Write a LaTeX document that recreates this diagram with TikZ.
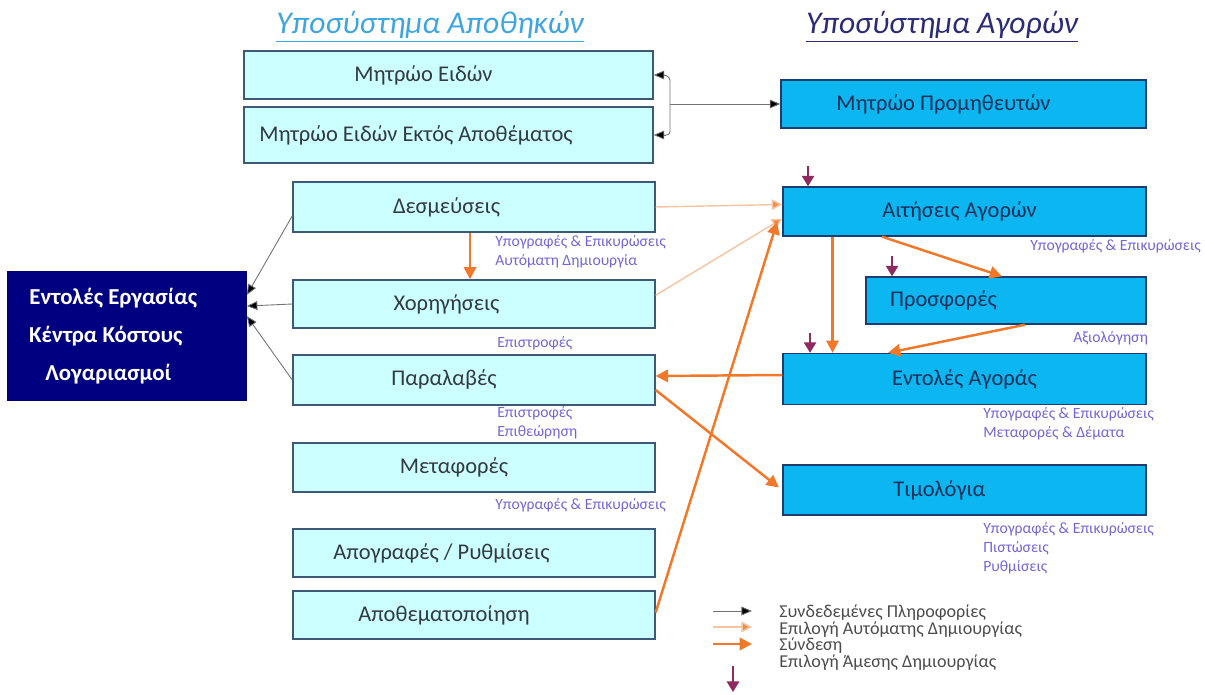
\documentclass[tikz,border=0pt]{standalone}
\usepackage{fontspec}
\setmainfont{Carlito}
\usetikzlibrary{arrows.meta}
\definecolor{stockfill}{HTML}{CCFFFF}
\definecolor{stockline}{HTML}{3C5A78}
\definecolor{buyfill}{HTML}{0CB6F0}
\definecolor{buyline}{HTML}{1E3C70}
\definecolor{navybox}{HTML}{000080}
\definecolor{linkorange}{HTML}{F07828}
\definecolor{autoorange}{HTML}{F5C4A0}
\definecolor{directpurple}{HTML}{8E2A5E}
\definecolor{notecolor}{HTML}{7466D8}
\definecolor{titleA}{HTML}{3DA5E0}
\definecolor{titleB}{HTML}{2B2B7A}
\definecolor{boxtext}{HTML}{333A40}
\begin{document}
\begin{tikzpicture}[x=0.02cm,y=-0.02cm,
  stockbox/.style={draw=stockline,fill=stockfill,line width=0.8pt,inner sep=0pt,
    text=boxtext,font=\fontsize{12.8}{15}\selectfont},
  buybox/.style={draw=buyline,fill=buyfill,line width=0.8pt,inner sep=0pt,
    text=buyline!80!black,font=\fontsize{12.8}{15}\selectfont},
  note/.style={anchor=west,inner sep=0pt,text=notecolor,align=left,
    font=\fontsize{8.9}{10.8}\selectfont},
  legendtext/.style={anchor=west,inner sep=0pt,text=black!70,
    font=\fontsize{10.3}{12}\selectfont},
  title/.style={inner sep=0pt,font=\fontsize{18}{21}\selectfont\itshape},
  infoarrow/.style={draw=black!55,line width=0.5pt,-{Triangle[length=6pt,width=5pt,fill=black]}},
  autoarrow/.style={draw=autoorange,line width=0.8pt,-{Triangle[length=6pt,width=6pt,fill=linkorange!85]}},
  linkarrow/.style={draw=linkorange,line width=1.4pt,-{Triangle[length=7pt,width=7pt]}},
  directarrow/.style={draw=directpurple,line width=1pt,-{Triangle[length=6pt,width=7pt]}}]
\useasboundingbox (0,0) rectangle (1205,694);

% headings
\node[title,text=titleA] (hA) at (430,27) {\underline{Υποσύστημα Αποθηκών}};
\node[title,text=titleB] (hB) at (942,27) {\underline{Υποσύστημα Αγορών}};

% warehouse subsystem
\node[stockbox,minimum width=8.18cm,minimum height=0.96cm] (items) at (448.5,75)
  {Μητρώο Ειδών\hspace*{1cm}};
\node[stockbox,minimum width=8.18cm,minimum height=1.12cm] (nonstock) at (448.5,135)
  {Μητρώο Ειδών Εκτός Αποθέματος\hspace*{1.3cm}};
\node[stockbox,minimum width=7.24cm,minimum height=1.0cm] (reserv) at (474,207)
  {Δεσμεύσεις\hspace*{1.1cm}};
\node[stockbox,minimum width=7.24cm,minimum height=0.96cm] (issues) at (474,304)
  {Χορηγήσεις\hspace*{1.1cm}};
\node[stockbox,minimum width=7.24cm,minimum height=1.0cm] (receipts) at (474,380)
  {Παραλαβές\hspace*{1.2cm}};
\node[stockbox,minimum width=7.24cm,minimum height=0.98cm] (transfers) at (474,467.5)
  {Μεταφορές\hspace*{0.8cm}};
\node[stockbox,minimum width=7.24cm,minimum height=0.96cm] (counts) at (474,553)
  {Απογραφές / Ρυθμίσεις\hspace*{1.3cm}};
\node[stockbox,minimum width=7.24cm,minimum height=0.96cm] (stocking) at (474,615)
  {Αποθεματοποίηση\hspace*{1.2cm}};

% work orders, cost centres, accounts
\node[draw=navybox!80!black,fill=navybox,minimum width=4.78cm,minimum height=2.58cm,
  inner sep=0pt,text=white,align=center,font=\fontsize{13}{21.5}\selectfont\bfseries]
  (orders) at (127,336) {\hspace*{-0.55cm}Εντολές Εργασίας\\\hspace*{-0.85cm}Κέντρα Κόστους\\\hspace*{-0.75cm}Λογαριασμοί};

% purchasing subsystem
\node[buybox,minimum width=7.3cm,minimum height=0.96cm] (suppliers) at (963.5,104)
  {Μητρώο Προμηθευτών\hspace*{0.8cm}};
\node[buybox,minimum width=7.26cm,minimum height=0.98cm] (requests) at (964.5,211.5)
  {Αιτήσεις Αγορών\hspace*{0.2cm}};
\node[buybox,minimum width=5.6cm,minimum height=0.94cm] (offers) at (1006,300.5)
  {Προσφορές\hspace*{2.5cm}};
\node[buybox,minimum width=7.26cm,minimum height=1.02cm] (porders) at (964.5,379)
  {Εντολές Αγοράς};
\node[buybox,minimum width=7.26cm,minimum height=1.0cm] (invoices) at (964.5,490)
  {Τιμολόγια\hspace*{1cm}};

% notes beside the boxes
\node[note] (n1) at (495,252) {Υπογραφές \& Επικυρώσεις\\Αυτόματη Δημιουργία};
\node[note] (n2) at (497,343) {Επιστροφές};
\node[note] (n3) at (497,423) {Επιστροφές\\Επιθεώρηση};
\node[note] (n4) at (495,505) {Υπογραφές \& Επικυρώσεις};
\node[note] (n5) at (1030,246) {Υπογραφές \& Επικυρώσεις};
\node[note] (n6) at (1073,338) {Αξιολόγηση};
\node[note] (n7) at (983,424) {Υπογραφές \& Επικυρώσεις\\Μεταφορές \& Δέματα};
\node[note] (n8) at (983,548) {Υπογραφές \& Επικυρώσεις\\Πιστώσεις\\Ρυθμίσεις};

% linked information: supplier register to the item registers
\coordinate (fork) at (670,104);
\draw[infoarrow] (fork) -- (suppliers.west);
\draw[black!55,line width=0.5pt,rounded corners=2pt]
  ([xshift=6pt]items.east) -- (670,77) -- (670,135) -- ([xshift=6pt]nonstock.east);
\draw[infoarrow] ([xshift=7pt]items.east) -- (items.east);
\draw[infoarrow] ([xshift=7pt]nonstock.east) -- (nonstock.east);

% linked information: warehouse documents to work orders
\draw[infoarrow] ([yshift=-5pt]reserv.west) -- ([yshift=0.82cm]orders.east);
\draw[infoarrow] ([yshift=0pt]issues.west) -- ([yshift=0.6cm]orders.east);
\draw[infoarrow] (receipts.west) -- ([yshift=0.4cm]orders.east);

% automatic creation
\draw[autoarrow] (reserv.east) -- ([yshift=4pt]requests.west);
\draw[autoarrow] ([yshift=5pt]issues.east) -- ([yshift=-4pt]requests.west);

% links
\draw[linkarrow] ([xshift=-0.08cm]reserv.south) -- ([xshift=-0.08cm]issues.north);
\draw[linkarrow] ([yshift=0.05cm]stocking.east) -- ([xshift=-3pt,yshift=-6pt]requests.west);
\draw[linkarrow] ([yshift=0.08cm]porders.west) -- ([yshift=0.08cm]receipts.east);
\draw[linkarrow] ([yshift=-0.2cm]receipts.east) -- ([xshift=-2pt,yshift=0.05cm]invoices.west);
\draw[linkarrow] ([xshift=-2.64cm]requests.south) -- ([xshift=-2.64cm]porders.north);
\draw[linkarrow] ([xshift=-1.65cm]requests.south) -- ([xshift=-0.08cm]offers.north);
\draw[linkarrow] ([xshift=0.38cm]offers.south) -- ([xshift=-1.53cm]porders.north);

% direct creation
\draw[directarrow] ([xshift=-3.13cm,yshift=0.4cm]requests.north) -- ([xshift=-3.13cm]requests.north);
\draw[directarrow] ([xshift=-2.28cm,yshift=0.4cm]offers.north) -- ([xshift=-2.28cm]offers.north);
\draw[directarrow] ([xshift=-3.09cm,yshift=0.4cm]porders.north) -- ([xshift=-3.09cm]porders.north);

% legend
\coordinate (k1a) at (713,611); \coordinate (k1b) at (752,611);
\coordinate (k2a) at (713,627); \coordinate (k2b) at (752,627);
\coordinate (k3a) at (713,644); \coordinate (k3b) at (752,644);
\coordinate (k4a) at (733,666); \coordinate (k4b) at (733,692);
\draw[infoarrow] (k1a) -- (k1b);
\draw[autoarrow] (k2a) -- (k2b);
\draw[linkarrow] (k3a) -- (k3b);
\draw[directarrow] (k4a) -- (k4b);
\node[legendtext] (t1) at (779,613) {Συνδεδεμένες Πληροφορίες};
\node[legendtext] (t2) at (779,630) {Επιλογή Αυτόματης Δημιουργίας};
\node[legendtext] (t3) at (779,646) {Σύνδεση};
\node[legendtext] (t4) at (779,663) {Επιλογή Άμεσης Δημιουργίας};
\end{tikzpicture}
\end{document}
